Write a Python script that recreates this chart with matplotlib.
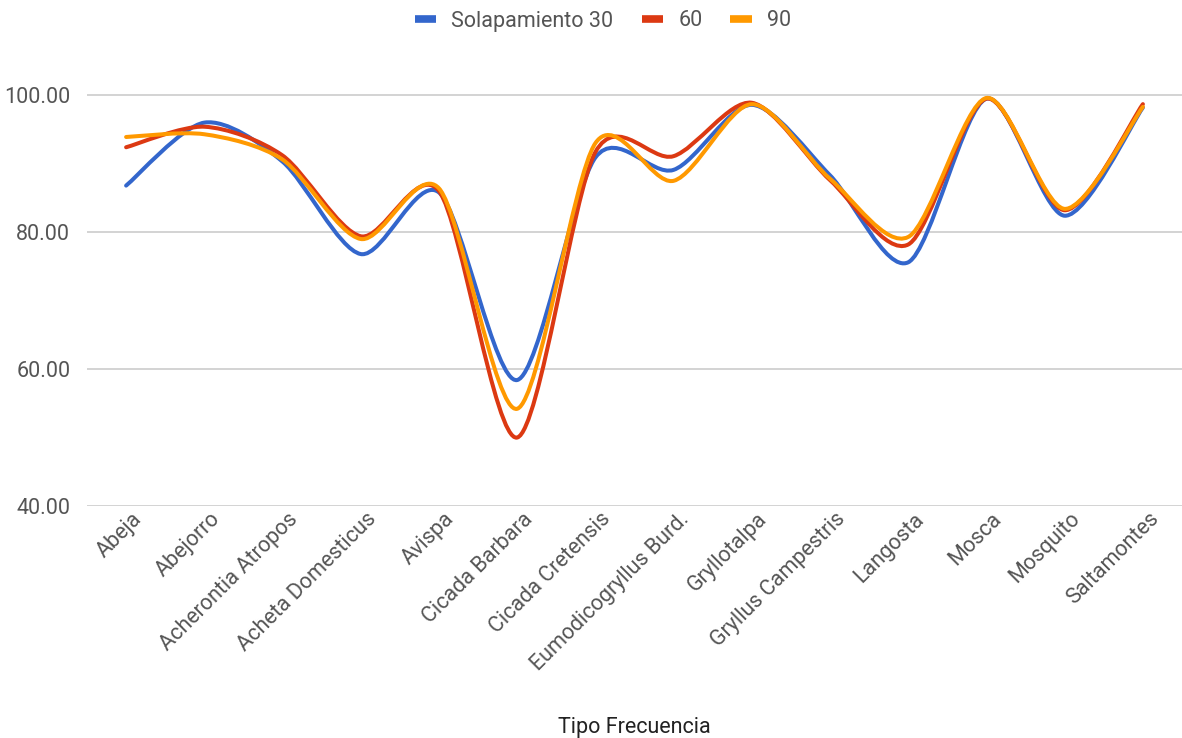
import numpy as np
import matplotlib.pyplot as plt
import matplotlib.transforms as mtransforms
from matplotlib.path import Path
from matplotlib.patches import PathPatch
from matplotlib.lines import Line2D

plt.rcParams['font.family'] = ['Roboto', 'DejaVu Sans']

especies = ['Abeja', 'Abejorro', 'Acherontia Atropos', 'Acheta Domesticus', 'Avispa',
            'Cicada Barbara', 'Cicada Cretensis', 'Eumodicogryllus Burd.', 'Gryllotalpa',
            'Gryllus Campestris', 'Langosta', 'Mosca', 'Mosquito', 'Saltamontes']

solap_30 = [86.8, 96.0, 90.3, 76.8, 85.8, 58.4, 90.9, 89.1, 98.6, 88.3, 75.6, 99.5, 82.4, 98.2]
solap_60 = [92.4, 95.4, 91.2, 79.4, 86.0, 50.0, 91.7, 91.1, 98.9, 87.6, 78.2, 99.5, 83.2, 98.7]
solap_90 = [93.9, 94.3, 90.6, 79.0, 86.4, 54.2, 93.0, 87.5, 98.7, 87.8, 79.3, 99.6, 83.4, 98.3]

series = [('Solapamiento 30', solap_30, '#3366CC'),
          ('60', solap_60, '#DC3912'),
          ('90', solap_90, '#FF9900')]


def curva_suave(xs, ys, k=1 / 7):
    # spline cardinal convertido a segmentos Bezier cubicos
    pts = np.column_stack([xs, ys]).astype(float)
    n = len(pts)
    verts = [pts[0]]
    codes = [Path.MOVETO]
    for i in range(n - 1):
        p0 = pts[max(i - 1, 0)]
        p1 = pts[i]
        p2 = pts[i + 1]
        p3 = pts[min(i + 2, n - 1)]
        c1 = p1 + (p2 - p0) * k
        c2 = p2 - (p3 - p1) * k
        verts += [c1, c2, p2]
        codes += [Path.CURVE4] * 3
    return Path(verts, codes)


fig = plt.figure(figsize=(11.82, 7.38), dpi=100)
ax = fig.add_axes([87 / 1182, 1 - 506 / 738, 1095 / 1182, 445 / 738])

x = np.arange(len(especies))
for nombre, vals, color in series:
    ax.add_patch(PathPatch(curva_suave(x, vals), facecolor='none', edgecolor=color,
                           linewidth=2.9, capstyle='round', joinstyle='round', zorder=3))

ax.set_xlim(-0.5, len(especies) - 0.5)
ax.set_ylim(40, 105)
ax.set_yticks([40, 60, 80, 100])
ax.set_yticklabels(['%.2f' % v for v in [40, 60, 80, 100]])
ax.grid(axis='y', color='#cccccc', linewidth=1.2)
ax.set_axisbelow(True)
for s in ax.spines.values():
    s.set_visible(False)
ax.tick_params(axis='y', length=0, pad=12, labelsize=15.5, labelcolor='#555555')
ax.tick_params(axis='x', length=0, pad=4, labelsize=15.5, labelcolor='#555555')
ax.set_xticks(x)
ax.set_xticklabels(especies, rotation=45, ha='right', va='top', rotation_mode='anchor')
desplaza = mtransforms.ScaledTranslation(5 / 100, 3 / 100, fig.dpi_scale_trans)
for lbl in ax.get_xticklabels():
    lbl.set_transform(lbl.get_transform() + desplaza)

fig.text(634 / 1182, 1 - 727 / 738, 'Tipo Frecuencia', fontsize=15.5, color='#222222',
         ha='center', va='center')

handles = [Line2D([0], [0], color=c, linewidth=5.5, solid_capstyle='butt') for _, _, c in series]
fig.legend(handles, [n for n, _, _ in series], loc='center', bbox_to_anchor=(603 / 1182, 1 - 21 / 738),
           ncol=3, frameon=False, fontsize=15.5, handlelength=1.0, handletextpad=0.7,
           columnspacing=1.3, labelcolor='#555555')

fig.savefig('out.png', dpi=100)
